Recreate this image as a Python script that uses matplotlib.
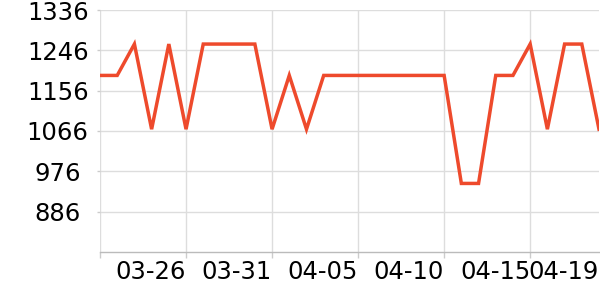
import matplotlib
matplotlib.use("Agg")
import matplotlib.pyplot as plt
import datetime as dt

start = "2024-03-21"
values = [1190, 1190, 1260, 1070, 1260, 1070, 1260, 1260, 1260, 1260,
          1070, 1190, 1070, 1190, 1190, 1190, 1190, 1190, 1190, 1190,
          1190, 949, 949, 1190, 1190, 1260, 1070, 1260, 1260, 1070]
y_ticks = [886, 976, 1066, 1156, 1246, 1336]
y_min = 796
x_tick_labels = ["03-26", "03-31", "04-05", "04-10", "04-15", "04-19"]

d0 = dt.datetime.strptime(start, "%Y-%m-%d")
dates = [d0 + dt.timedelta(days=i) for i in range(len(values))]
tick_dates = [dt.datetime.strptime("2024-" + s, "%Y-%m-%d") for s in x_tick_labels]

fig = plt.figure(figsize=(6, 3), dpi=100)
ax = fig.add_axes([100/600, 48/300, 499/600, 242/300])
ax.plot(dates, values, color="#ee4a2c", lw=2.5, solid_joinstyle="miter", clip_on=True)

ax.set_xlim(dates[0], dates[-1])
ax.set_ylim(y_min, y_ticks[-1])
ax.set_yticks(y_ticks)
ax.set_yticklabels([str(v) for v in y_ticks])
grid_dates = [d0] + tick_dates[:-1]
ax.set_xticks(grid_dates + [tick_dates[-1]])
ax.set_xticklabels([""] + x_tick_labels)
for lab in ax.get_xticklabels():
    lab.set_horizontalalignment("right")
for lab in ax.get_yticklabels():
    lab.set_horizontalalignment("center")

ax.tick_params(axis="y", length=2, width=1, color="#cccccc", pad=28.5, labelsize=17.5)
ax.tick_params(axis="x", length=4, width=1, color="#cccccc", pad=2, labelsize=17.5)

ax.grid(True, color="#dddddd", lw=1)
ax.set_axisbelow(True)
last = ax.xaxis.get_major_ticks()[-1]
last.gridline.set_visible(False)
last.tick1line.set_visible(False)
for s in ["top", "right", "left"]:
    ax.spines[s].set_visible(False)
ax.spines["bottom"].set_color("#bbbbbb")
ax.spines["bottom"].set_linewidth(1)

fig.savefig("out.png", dpi=100)
